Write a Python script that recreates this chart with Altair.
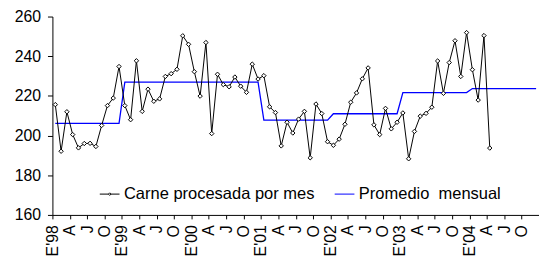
import json
import altair as alt
import pandas as pd

# Monthly values (Jan 1998 - Apr 2004)
carne = [
    215.6, 192.1, 212.0, 200.5, 193.8, 196.0, 196.1, 194.5, 205.1, 215.1, 218.9, 234.8,
    215.1, 208.0, 237.7, 212.2, 223.4, 217.3, 218.5, 229.8, 231.2, 233.4, 250.3, 246.0,
    232.2, 219.9, 246.9, 201.0, 230.9, 225.7, 224.6, 229.5, 224.9, 221.8, 236.0, 228.5,
    230.2, 214.5, 211.6, 194.8, 206.7, 201.3, 208.3, 212.2, 188.8, 215.9, 211.1, 196.9,
    195.1, 198.2, 205.7, 216.8, 221.5, 228.6, 234.1, 205.4, 200.5, 213.7, 203.4, 206.7,
    211.4, 188.3, 202.1, 209.8, 211.2, 214.3, 237.6, 221.3, 236.8, 247.8, 229.8, 251.9,
    233.2, 217.9, 250.4, 193.7,
]
# Yearly average level (1998 ... 2004)
promedio_anual = [206.2, 226.9, 226.9, 207.8, 211.0, 221.7, 223.7]

tick_labels = [
    "E'98", "A", "J", "O", "E'99", "A", "J", "O", "E'00", "A", "J", "O",
    "E'01", "A", "J", "O", "E'02", "A", "J", "O", "E'03", "A", "J", "O",
    "E'04", "A", "J", "O",
]
series_names = ["Carne procesada por mes", "Promedio\u00a0 mensual"]
series_colors = ["black", "#0000FF"]

n_months = 84
df_carne = pd.DataFrame({"mes": list(range(len(carne))), "valor": carne})
df_prom = pd.DataFrame({
    "mes": list(range(n_months)),
    "valor": [promedio_anual[i // 12] for i in range(n_months)],
})
df_legend = pd.DataFrame({"serie": series_names, "mes": [0, 0], "valor": [200, 200]})

FONT = "Liberation Sans"

x_enc = alt.X(
    "mes:Q",
    title=None,
    scale=alt.Scale(domain=[-0.5, n_months - 0.5], nice=False, zero=False),
    axis=alt.Axis(
        values=[-0.5 + 3 * k for k in range(len(tick_labels))],
        labelExpr=json.dumps(tick_labels) + "[round((datum.value + 0.5) / 3)]",
        labelAngle=270, labelAlign="right", labelBaseline="middle",
        labelPadding=6, tickSize=4, labelFontSize=16, labelFont=FONT,
        labelColor="black", domainColor="black", tickColor="black",
        grid=False, labelOverlap=False,
    ),
)
y_enc = alt.Y(
    "valor:Q",
    title=None,
    scale=alt.Scale(domain=[160, 260], nice=False, zero=False),
    axis=alt.Axis(
        values=[160, 180, 200, 220, 240, 260],
        tickSize=5, labelPadding=7, labelFontSize=16, labelFont=FONT,
        labelColor="black", domainColor="black", tickColor="black", grid=False,
    ),
)

prom_line = alt.Chart(df_prom).mark_line(color="#0000FF", strokeWidth=1.3).encode(x=x_enc, y=y_enc)
carne_line = alt.Chart(df_carne).mark_line(color="black", strokeWidth=1).encode(x=x_enc, y=y_enc)
carne_pts = alt.Chart(df_carne).mark_point(
    shape="diamond", filled=True, fill="white", stroke="black", strokeWidth=1, size=20, opacity=1
).encode(x=x_enc, y=y_enc)

path_carne = "M-1,0L-0.13,0M0.13,0L1,0M0,-0.13L0.13,0L0,0.13L-0.13,0Z"
path_prom = "M-1,0L1,0"

leg = alt.Legend(
    orient="none", legendX=47.5, legendY=169, direction="horizontal", title=None,
    labelFont=FONT, labelFontSize=16.7, labelColor="black", symbolSize=400,
    symbolStrokeWidth=1, labelOffset=4, columnPadding=18, padding=0,
    symbolOpacity=1, labelLimit=0,
)
legend_layer = alt.Chart(df_legend).mark_point(filled=False, opacity=1).encode(
    x=x_enc, y=y_enc,
    color=alt.Color("serie:N", scale=alt.Scale(domain=series_names, range=series_colors), legend=leg),
    shape=alt.Shape("serie:N", scale=alt.Scale(domain=series_names, range=[path_carne, path_prom]), legend=leg),
).transform_filter("false")

chart = alt.layer(prom_line, carne_line, carne_pts, legend_layer).properties(
    width=493, height=201, autosize="none",
    padding={"left": 45, "top": 7, "right": 0, "bottom": 43},
).configure_view(stroke=None)

chart.save("out.html", embed_options={"renderer": "svg", "actions": False})
